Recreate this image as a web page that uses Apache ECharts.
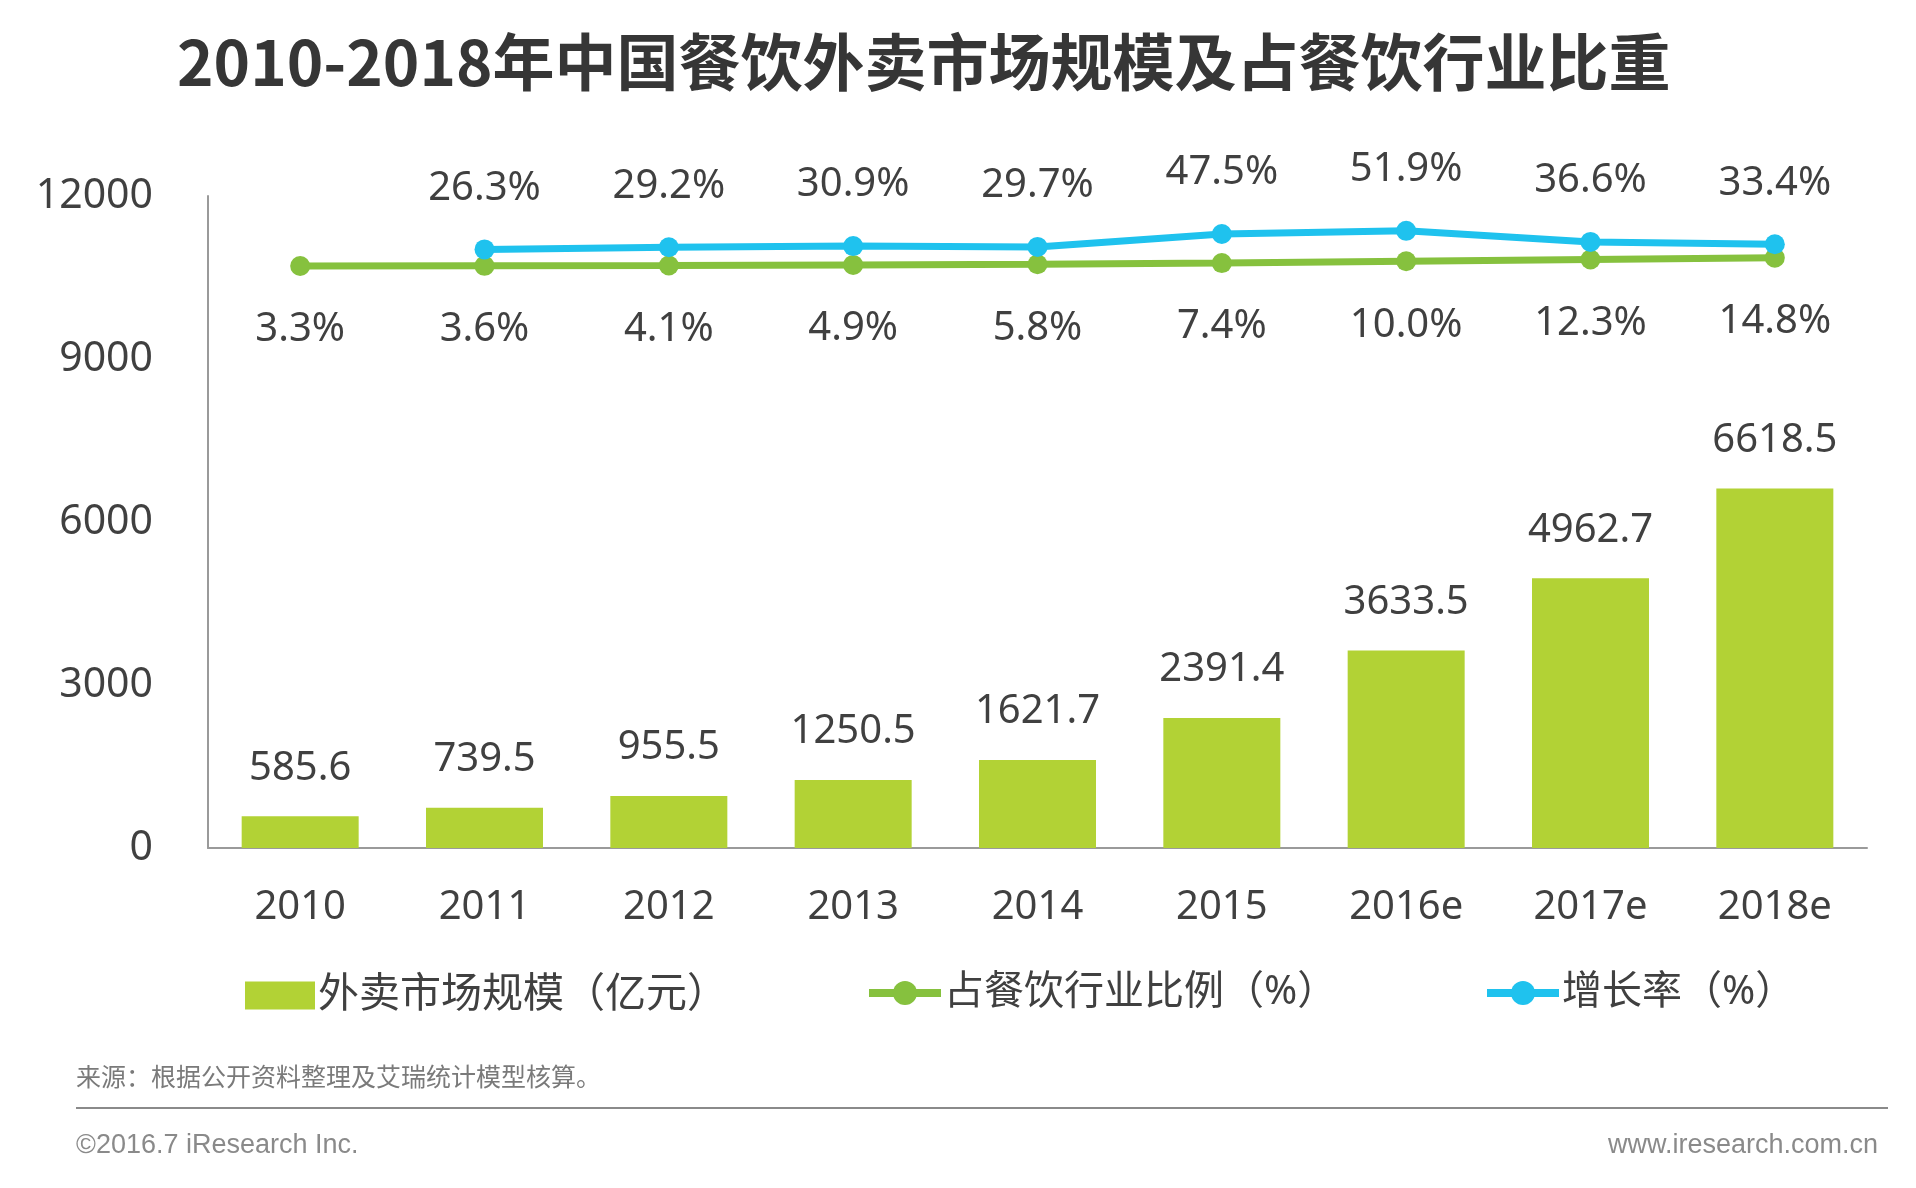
<!DOCTYPE html>
<html>
<head>
<meta charset="utf-8">
<script src="https://cdn.jsdelivr.net/npm/echarts@6/dist/echarts.min.js"></script>
<style>
html,body{margin:0;padding:0;background:#fff;}
#chart{width:1916px;height:1188px;}
</style>
</head>
<body>
<div id="chart"></div>
<script>
const categories = ['2010','2011','2012','2013','2014','2015','2016e','2017e','2018e'];
const marketSize = [585.6, 739.5, 955.5, 1250.5, 1621.7, 2391.4, 3633.5, 4962.7, 6618.5];
const shareOfCatering = [3.3, 3.6, 4.1, 4.9, 5.8, 7.4, 10.0, 12.3, 14.8];
const growthRate = [null, 26.3, 29.2, 30.9, 29.7, 47.5, 51.9, 36.6, 33.4];
const yTicks = [0, 3000, 6000, 9000, 12000];

const FONT = '"Noto Sans", "Noto Sans CJK SC", sans-serif';
const TXT = '#404040';
const BAR = '#b2d235';
const GREEN = '#86c13e';
const BLUE = '#1fc2ee';

const chart = echarts.init(document.getElementById('chart'));
chart.setOption({
  backgroundColor: '#ffffff',
  textStyle: { fontFamily: FONT },
  animation: false,
  grid: { left: 208, right: 49, top: 196, bottom: 340, containLabel: false },
  legend: [
    { data: [{ name: '外卖市场规模（亿元）', icon: 'rect' }], left: 240, top: 970, itemWidth: 70, itemHeight: 28,
      textStyle: { fontSize: 41, color: TXT, fontFamily: FONT, padding: [0,0,0,-2] } },
    { data: ['占餐饮行业比例（%）'], left: 860, top: 968, itemWidth: 72, itemHeight: 30,
      lineStyle: { width: 8 },
      textStyle: { fontSize: 40, color: TXT, fontFamily: FONT, padding: [0,0,0,-2] } },
    { data: ['增长率（%）'], left: 1478, top: 968, itemWidth: 72, itemHeight: 30,
      lineStyle: { width: 8 },
      textStyle: { fontSize: 40, color: TXT, fontFamily: FONT, padding: [0,0,0,-2] } }
  ],
  xAxis: {
    type: 'category',
    data: categories,
    axisLine: { show: true, lineStyle: { color: '#9a9a9a', width: 2 } },
    axisTick: { show: false },
    axisLabel: { color: TXT, fontSize: 40, margin: 40, fontFamily: FONT }
  },
  yAxis: [
    {
      type: 'value', min: 0, max: 12000, interval: 3000,
      axisLine: { show: true, lineStyle: { color: '#9a9a9a', width: 2 } },
      axisTick: { show: false },
      splitLine: { show: false },
      axisLabel: { color: TXT, fontSize: 41, margin: 55, fontFamily: FONT,
        formatter: v => yTicks.indexOf(v) >= 0 ? String(v) : '' }
    },
    { type: 'value', min: -800, max: 100, show: false, splitLine: { show: false } }
  ],
  series: [
    {
      name: '外卖市场规模（亿元）', type: 'bar', data: marketSize, barWidth: 117,
      itemStyle: { color: BAR },
      label: { show: true, position: 'top', distance: 28, color: TXT, fontSize: 40, fontFamily: FONT,
        formatter: p => p.value.toFixed(1) }
    },
    {
      name: '占餐饮行业比例（%）', type: 'line', yAxisIndex: 1, data: shareOfCatering,
      symbol: 'circle', symbolSize: 20, z: 3,
      lineStyle: { color: GREEN, width: 7 }, itemStyle: { color: GREEN },
      label: { show: true, position: 'bottom', distance: 34, color: TXT, fontSize: 40, fontFamily: FONT,
        formatter: p => p.value.toFixed(1) + '%' }
    },
    {
      name: '增长率（%）', type: 'line', yAxisIndex: 1, data: growthRate,
      symbol: 'circle', symbolSize: 20, z: 4, connectNulls: false,
      lineStyle: { color: BLUE, width: 7 }, itemStyle: { color: BLUE },
      label: { show: true, position: 'top', distance: 31, color: TXT, fontSize: 40, fontFamily: FONT,
        formatter: p => p.value == null ? '' : p.value.toFixed(1) + '%' }
    }
  ],
  graphic: [
    { type: 'text', left: 177, top: 31,
      style: { text: '2010-2018年中国餐饮外卖市场规模及占餐饮行业比重', fontSize: 62, fontWeight: 'bold',
        fill: '#363636', fontFamily: '"Noto Sans CJK SC", sans-serif' } },
    { type: 'text', left: 76, top: 1064,
      style: { text: '来源：根据公开资料整理及艾瑞统计模型核算。', fontSize: 25, fill: '#7a7a7a',
        fontFamily: '"Noto Sans CJK SC", sans-serif' } },
    { type: 'line', shape: { x1: 76, y1: 1108, x2: 1888, y2: 1108 },
      style: { stroke: '#8a8a8a', lineWidth: 2 } },
    { type: 'text', left: 76, top: 1132,
      style: { text: '©2016.7 iResearch Inc.', fontSize: 27, fill: '#8a8a8a', fontFamily: '"Liberation Sans", Arial, sans-serif' } },
    { type: 'text', right: 38, top: 1132,
      style: { text: 'www.iresearch.com.cn', fontSize: 27, fill: '#8a8a8a', fontFamily: '"Liberation Sans", Arial, sans-serif' } }
  ]
});
</script>
</body>
</html>
